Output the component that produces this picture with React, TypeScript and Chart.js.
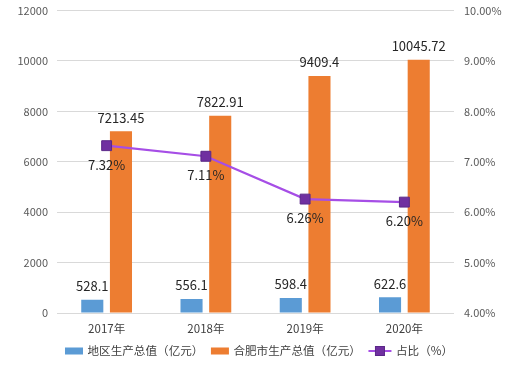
import React, { useEffect, useRef } from 'react';
import { Chart, registerables } from 'chart.js';

Chart.register(...registerables);

const categories = ['2017年', '2018年', '2019年', '2020年'];
const regionGdp = [528.1, 556.1, 598.4, 622.6];
const hefeiGdp = [7213.45, 7822.91, 9409.4, 10045.72];
const sharePct = [7.32, 7.11, 6.26, 6.2];
const seriesNames = ['地区生产总值（亿元）', '合肥市生产总值（亿元）', '占比（%）'];
const leftAxisRange = [0, 12000, 2000];
const rightAxisRange = [4, 10, 1];

const FONT = "'Noto Sans CJK SC', 'Noto Sans', sans-serif";
const BLUE = '#5b9bd5';
const ORANGE = '#ed7d31';
const LINE = '#a64ee6';
const MARK = '#7030a0';
const MARK_BORDER = '#5a2788';

const labelPlugin = {
  id: 'valueLabels',
  afterDatasetsDraw(chart: any) {
    const ctx = chart.ctx;
    ctx.save();
    ctx.font = `13px ${FONT}`;
    ctx.fillStyle = '#262626';
    ctx.textAlign = 'center';
    ctx.textBaseline = 'middle';
    [0, 1].forEach((di) => {
      const meta = chart.getDatasetMeta(di);
      const data = chart.data.datasets[di].data as number[];
      meta.data.forEach((el: any, i: number) => {
        ctx.fillText(String(data[i]), el.x, el.y - 13.5);
      });
    });
    const lm = chart.getDatasetMeta(2);
    const ld = chart.data.datasets[2].data as number[];
    lm.data.forEach((el: any, i: number) => {
      ctx.fillText(ld[i].toFixed(2) + '%', el.x, el.y + 19);
    });
    ctx.restore();
  },
};

const legendPlugin = {
  id: 'customLegend',
  afterDraw(chart: any) {
    const ctx = chart.ctx;
    ctx.save();
    ctx.font = `11.6px ${FONT}`;
    ctx.textBaseline = 'middle';
    ctx.textAlign = 'left';
    const y = 351;
    const boxW = 18;
    const lineW = 23;
    const gapIn = 4.5;
    const gapOut = 7.5;
    const widths = seriesNames.map((t) => ctx.measureText(t).width);
    const total =
      boxW + gapIn + widths[0] + gapOut + boxW + gapIn + widths[1] + gapOut + lineW + gapIn + widths[2];
    let x = (chart.width - total) / 2 + 1.5;
    ctx.fillStyle = BLUE;
    ctx.fillRect(x, y - 3.5, boxW, 7);
    x += boxW + gapIn;
    ctx.fillStyle = '#404040';
    ctx.fillText(seriesNames[0], x, y);
    x += widths[0] + gapOut;
    ctx.fillStyle = ORANGE;
    ctx.fillRect(x, y - 3.5, boxW, 7);
    x += boxW + gapIn;
    ctx.fillStyle = '#404040';
    ctx.fillText(seriesNames[1], x, y);
    x += widths[1] + gapOut;
    ctx.strokeStyle = LINE;
    ctx.lineWidth = 2;
    ctx.beginPath();
    ctx.moveTo(x, y);
    ctx.lineTo(x + lineW, y);
    ctx.stroke();
    ctx.fillStyle = MARK;
    ctx.fillRect(x + lineW / 2 - 4.5, y - 4.5, 9, 9);
    ctx.strokeStyle = MARK_BORDER;
    ctx.lineWidth = 1;
    ctx.strokeRect(x + lineW / 2 - 4.5, y - 4.5, 9, 9);
    x += lineW + gapIn;
    ctx.fillStyle = '#404040';
    ctx.fillText(seriesNames[2], x, y);
    ctx.restore();
  },
};

export default function App() {
  const ref = useRef<HTMLCanvasElement | null>(null);
  useEffect(() => {
    document.body.style.margin = '0';
    if (!ref.current) return;
    const chart = new Chart(ref.current, {
      type: 'bar',
      data: {
        labels: categories,
        datasets: [
          {
            type: 'bar',
            label: seriesNames[0],
            data: regionGdp,
            backgroundColor: BLUE,
            yAxisID: 'y',
            categoryPercentage: 0.578,
            barPercentage: 0.77,
            order: 1,
          },
          {
            type: 'bar',
            label: seriesNames[1],
            data: hefeiGdp,
            backgroundColor: ORANGE,
            yAxisID: 'y',
            categoryPercentage: 0.578,
            barPercentage: 0.77,
            order: 1,
          },
          {
            type: 'line',
            label: seriesNames[2],
            data: sharePct,
            borderColor: LINE,
            borderWidth: 2.25,
            pointStyle: 'rect',
            pointRadius: 7,
            pointBackgroundColor: MARK,
            pointBorderColor: MARK_BORDER,
            pointBorderWidth: 1,
            yAxisID: 'y1',
            order: 0,
          } as any,
        ],
      },
      options: {
        animation: false,
        responsive: true,
        maintainAspectRatio: false,
        layout: { padding: { top: 0, left: 0, right: 0, bottom: 0 } },
        plugins: { legend: { display: false }, tooltip: { enabled: false } },
        scales: {
          x: {
            grid: { display: false },
            border: { display: false },
            ticks: { color: '#404040', font: { family: FONT, size: 11.5 }, padding: 1 },
            afterFit(scale: any) {
              scale.height = 64;
            },
          },
          y: {
            position: 'left',
            min: leftAxisRange[0],
            max: leftAxisRange[1],
            ticks: {
              stepSize: leftAxisRange[2],
              color: '#595959',
              font: { family: FONT, size: 11 },
              padding: 4,
              callback: (v: any) => String(v),
            },
            grid: {
              color: '#d9d9d9',
              lineWidth: 1,
              drawTicks: true,
              tickLength: 5,
              tickColor: 'rgba(0,0,0,0)',
            },
            border: { display: false },
            afterFit(scale: any) {
              scale.width = 57;
            },
          },
          y1: {
            position: 'right',
            min: rightAxisRange[0],
            max: rightAxisRange[1],
            ticks: {
              stepSize: rightAxisRange[2],
              color: '#595959',
              font: { family: FONT, size: 11 },
              padding: 4,
              callback: (v: any) => Number(v).toFixed(2) + '%',
            },
            grid: { display: false, drawTicks: true, tickLength: 6 },
            border: { display: false },
            afterFit(scale: any) {
              scale.width = 61;
            },
          },
        },
      },
      plugins: [labelPlugin, legendPlugin],
    });
    return () => chart.destroy();
  }, []);
  return (
    <div style={{ width: 515, height: 377, position: 'relative', background: '#fff' }}>
      <canvas ref={ref} />
    </div>
  );
}
